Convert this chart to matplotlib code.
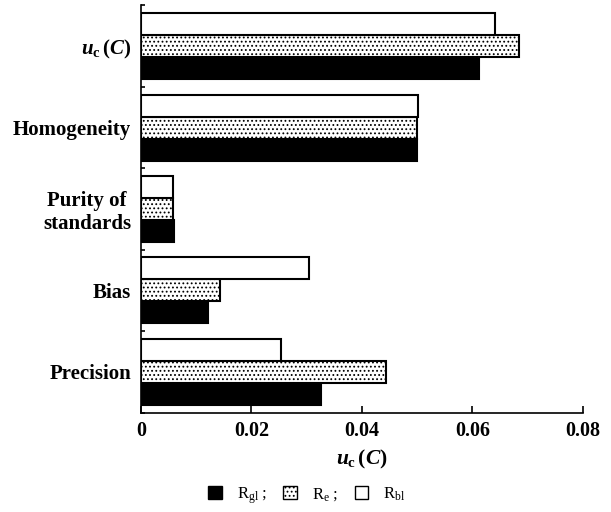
import matplotlib
matplotlib.use("Agg")
import matplotlib.pyplot as plt
import matplotlib.patches as mpatches
import numpy as np

plt.rcParams['font.family'] = ['Liberation Serif', 'DejaVu Serif']
plt.rcParams['mathtext.fontset'] = 'custom'
plt.rcParams['mathtext.rm'] = 'Liberation Serif'
plt.rcParams['mathtext.it'] = 'Liberation Serif:italic:bold'
plt.rcParams['mathtext.bf'] = 'Liberation Serif:bold'
plt.rcParams['hatch.linewidth'] = 0.8

categories = ['Precision', 'Bias', 'Purity of\nstandards', 'Homogeneity',
              r'$\mathit{u}_{\mathbf{c}}\,\mathbf{(}\mathit{C}\mathbf{)}$']
r_gl = [0.0325, 0.0121, 0.0059, 0.0500, 0.0611]
r_e = [0.0444, 0.0143, 0.0057, 0.0500, 0.0685]
r_bl = [0.0254, 0.0304, 0.0058, 0.0501, 0.0641]
xticks = [0, 0.02, 0.04, 0.06, 0.08]
xticklabels = ['0', '0.02', '0.04', '0.06', '0.08']

fig = plt.figure(figsize=(6.11, 5.12), dpi=100)
ax = fig.add_axes([0.2308, 0.194, 0.7232, 0.7956])

y = np.arange(len(categories))
h = 0.27
ax.barh(y - h, r_gl, height=h, color='black', edgecolor='black', linewidth=1.5)
ax.barh(y, r_e, height=h, color='white', edgecolor='black', linewidth=1.5, hatch='....')
ax.barh(y + h, r_bl, height=h, color='white', edgecolor='black', linewidth=1.5)

ax.set_xlim(0, 0.08)
ax.set_ylim(-0.5, len(categories) - 0.5)
ax.set_xticks(xticks)
ax.set_xticklabels(xticklabels, fontsize=14.5, fontweight='bold')
ax.set_yticks(y)
ax.set_yticklabels(categories, fontsize=15, fontweight='bold', multialignment='center')
ax.set_yticks(np.arange(-0.5, len(categories), 1.0), minor=True)
ax.tick_params(axis='y', which='major', length=0, pad=7)
ax.tick_params(axis='y', which='minor', direction='in', length=3, width=1.2)
ax.tick_params(axis='x', direction='in', length=5, width=1.2, pad=6)
for s in ['top', 'right']:
    ax.spines[s].set_visible(False)
for s in ['left', 'bottom']:
    ax.spines[s].set_linewidth(1.2)

ax.set_xlabel(r'$\mathit{u}_{\mathbf{c}}\,\mathbf{(}\mathit{C}\mathbf{)}$', fontsize=15.5, labelpad=5)

handles = [mpatches.Patch(facecolor='black', edgecolor='black'),
           mpatches.Patch(facecolor='white', edgecolor='black', hatch='....'),
           mpatches.Patch(facecolor='white', edgecolor='black')]
labels = [r'R$_{\mathrm{gl}}$ ;', r'R$_{\mathrm{e}}$ ;', r'R$_{\mathrm{bl}}$']
fig.legend(handles, labels, loc='center', bbox_to_anchor=(0.502, 0.032), ncol=3,
           frameon=False, fontsize=12, handlelength=0.8, handleheight=0.8,
           handletextpad=0.9, columnspacing=1.0)

fig.savefig('out.png', dpi=100)
